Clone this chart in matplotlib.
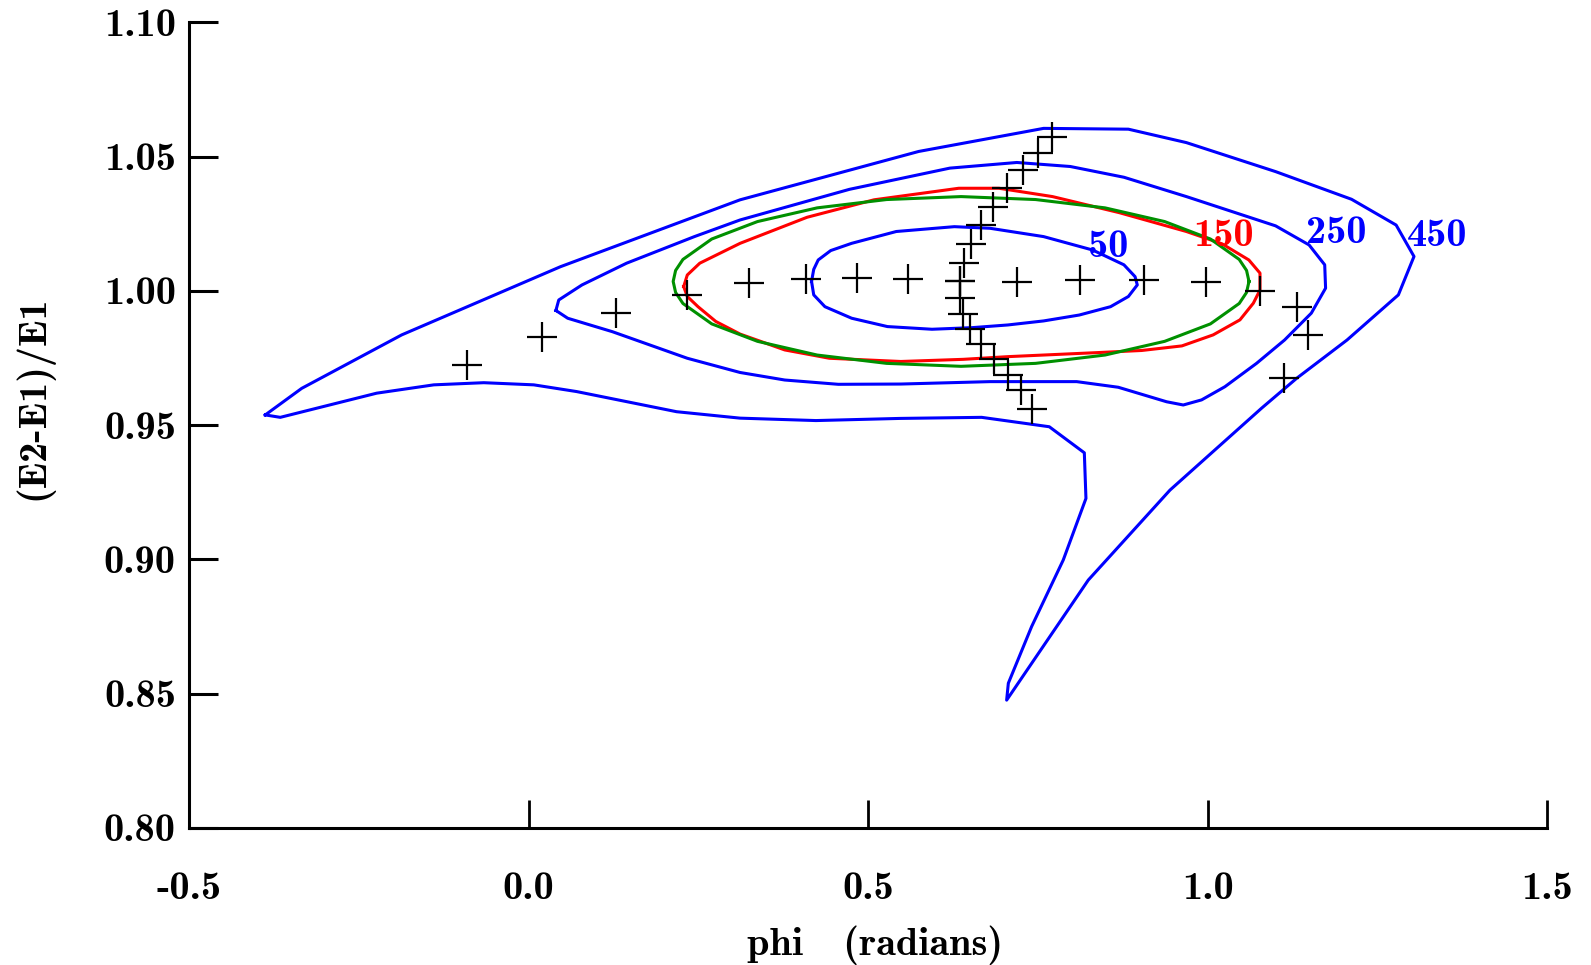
import matplotlib
matplotlib.use("Agg")
import matplotlib.pyplot as plt

# scan points (+ markers)
row_phi = [-0.091, 0.020, 0.129, 0.233, 0.325, 0.408, 0.484, 0.559, 0.635, 0.720,
           0.812, 0.907, 0.998, 1.077, 1.132, 1.148, 1.113]
row_ratio = [0.9723, 0.9829, 0.9916, 0.9984, 1.0028, 1.0043, 1.0047, 1.0043, 1.0037, 1.0034,
             1.0039, 1.0039, 1.0032, 0.9999, 0.9940, 0.9836, 0.9674]

col_phi = [0.7716, 0.7505, 0.7275, 0.7046, 0.6842, 0.6664, 0.6521, 0.6415, 0.6349,
           0.6349, 0.6401, 0.6500, 0.6664, 0.6861, 0.7058, 0.7255, 0.7420]
col_ratio = [1.0574, 1.0514, 1.0450, 1.0382, 1.0311, 1.0244, 1.0174, 1.0103, 1.0037,
             0.9972, 0.9914, 0.9859, 0.9802, 0.9745, 0.9687, 0.9631, 0.9559]

# contour 50 (blue)
c50_phi = [0.4168, 0.4200, 0.4266, 0.4450, 0.4759, 0.5416, 0.6271, 0.6796, 0.7585, 0.8308,
           0.8768, 0.8932, 0.8965, 0.8834, 0.8571, 0.8111, 0.7585, 0.7059, 0.6533, 0.5942,
           0.5285, 0.4759, 0.4365, 0.4200, 0.4168]
c50_ratio = [1.0035, 1.0080, 1.0115, 1.0150, 1.0177, 1.0221, 1.0239, 1.0233, 1.0202, 1.0152,
             1.0097, 1.0053, 1.0022, 0.9979, 0.9941, 0.9910, 0.9888, 0.9873, 0.9863, 0.9857,
             0.9867, 0.9898, 0.9941, 0.9985, 1.0035]

# contour 150 (red)
c150_phi = [0.2285, 0.2338, 0.2522, 0.3116, 0.4102, 0.5088, 0.6336, 0.6928, 0.7716, 0.8702,
            0.9688, 1.0214, 1.0608, 1.0772, 1.0772, 1.0674, 1.0477, 1.0082, 0.9622, 0.9031,
            0.8374, 0.7059, 0.6402, 0.5482, 0.4430, 0.3773, 0.3116, 0.2758, 0.2496, 0.2338,
            0.2285]
c150_ratio = [1.0016, 1.0059, 1.0103, 1.0177, 1.0274, 1.0339, 1.0382, 1.0382, 1.0351, 1.0291,
              1.0221, 1.0175, 1.0115, 1.0066, 1.0003, 0.9954, 0.9892, 0.9836, 0.9795, 0.9778,
              0.9770, 0.9755, 0.9745, 0.9737, 0.9749, 0.9780, 0.9839, 0.9886, 0.9941, 0.9979,
              1.0016]

# fitted contour (green)
fit_phi = [1.061, 1.0574, 1.0466, 1.0042, 0.9368, 0.849, 0.7467, 0.637, 0.5273, 0.425,
           0.3372, 0.2698, 0.2274, 0.2166, 0.213, 0.2166, 0.2274, 0.2698, 0.3372, 0.425,
           0.5273, 0.637, 0.7467, 0.849, 0.9368, 1.0042, 1.0466, 1.0574, 1.061]
fit_ratio = [1.0035, 1.0076, 1.0117, 1.0193, 1.0258, 1.0309, 1.0340, 1.0351, 1.0340, 1.0309,
             1.0258, 1.0193, 1.0117, 1.0076, 1.0035, 0.9994, 0.9953, 0.9877, 0.9812, 0.9761,
             0.9730, 0.9719, 0.9730, 0.9761, 0.9812, 0.9877, 0.9953, 0.9994, 1.0035]

# contour 250 (blue)
c250_phi = [0.0403, 0.0445, 0.0787, 0.1444, 0.2443, 0.3116, 0.4726, 0.6205, 0.7191, 0.7979,
            0.8768, 0.9688, 1.1002, 1.1495, 1.1725, 1.1738, 1.1528, 1.1134, 1.0721, 1.0255,
            0.9912, 0.9642, 0.9397, 0.8685, 0.8072, 0.6796, 0.5482, 0.4562, 0.3773, 0.3116,
            0.2338, 0.1234, 0.0577, 0.0403]
c250_ratio = [0.9927, 0.9966, 1.0022, 1.0103, 1.0202, 1.0264, 1.0378, 1.0457, 1.0478, 1.0463,
              1.0423, 1.0351, 1.0242, 1.0171, 1.0097, 1.0010, 0.9917, 0.9817, 0.9730, 0.9643,
              0.9594, 0.9575, 0.9587, 0.9641, 0.9662, 0.9662, 0.9653, 0.9652, 0.9668, 0.9696,
              0.9749, 0.9848, 0.9898, 0.9927]

# contour 450 (blue)
c450_phi = [-0.3877, -0.3340, -0.1868, 0.0471, 0.3116, 0.5745, 0.7585, 0.8834, 0.9688, 1.1002,
            1.2120, 1.2777, 1.3040, 1.2810, 1.2054, 1.1310, 1.0795, 0.9446, 0.8243, 0.7041,
            0.7066, 0.7409, 0.7875, 0.8209, 0.8185, 0.7669, 0.6673, 0.5471, 0.4233, 0.3116,
            0.2180, 0.0708, 0.0077, -0.0659, -0.1395, -0.2236, -0.3656, -0.3877]
c450_ratio = [0.9538, 0.9637, 0.9836, 1.0090, 1.0339, 1.0519, 1.0605, 1.0602, 1.0552, 1.0444,
              1.0341, 1.0245, 1.0128, 0.9985, 0.9817, 0.9674, 0.9563, 0.9258, 0.8923, 0.8476,
              0.8539, 0.8750, 0.8998, 0.9227, 0.9397, 0.9494, 0.9529, 0.9525, 0.9517, 0.9526,
              0.9550, 0.9625, 0.9650, 0.9658, 0.9650, 0.9619, 0.9529, 0.9538]

labels = ["50", "150", "250", "450"]
label_phi = [0.853, 1.0235, 1.190, 1.3387]
label_ratio = [1.0163, 1.0203, 1.0214, 1.0203]
label_colors = ["blue", "red", "blue", "blue"]

xticks = [-0.5, 0.0, 0.5, 1.0, 1.5]
xticklabels = ["-0.5", "0.0", "0.5", "1.0", "1.5"]
yticks = [0.80, 0.85, 0.90, 0.95, 1.00, 1.05, 1.10]
yticklabels = ["0.80", "0.85", "0.90", "0.95", "1.00", "1.05", "1.10"]

FONT = "cmb10"
FS = 29

fig = plt.figure(figsize=(15.91, 9.65), dpi=100)
ax = fig.add_axes([0.1188, 0.1420, 0.8536, 0.8349])

lw = 2.2
ax.plot(c450_phi, c450_ratio, color="blue", lw=lw)
ax.plot(c250_phi, c250_ratio, color="blue", lw=lw)
ax.plot(c50_phi, c50_ratio, color="blue", lw=lw)
ax.plot(c150_phi, c150_ratio, color="red", lw=lw)
ax.plot(fit_phi, fit_ratio, color="#009000", lw=lw)

ax.plot(row_phi, row_ratio, "k+", ms=22, mew=1.6)
ax.plot(col_phi, col_ratio, "k+", ms=22, mew=1.6)

for t, x, y, c in zip(labels, label_phi, label_ratio, label_colors):
    ax.text(x, y, t, color=c, ha="center", va="center", fontsize=FS, family=FONT)

ax.set_xlim(-0.5, 1.5)
ax.set_ylim(0.80, 1.10)
ax.spines["top"].set_visible(False)
ax.spines["right"].set_visible(False)
for s in ["left", "bottom"]:
    ax.spines[s].set_linewidth(2.2)

ax.set_xticks(xticks)
ax.set_xticklabels(xticklabels, family=FONT, fontsize=FS)
ax.set_yticks(yticks)
ax.set_yticklabels(yticklabels, family=FONT, fontsize=FS)
ax.tick_params(axis="x", direction="in", length=20, width=2.0, pad=32)
ax.tick_params(axis="y", direction="in", length=21, width=2.2, pad=9.5)

ax.set_xlabel("phi   (radians)", family=FONT, fontsize=FS)
ax.set_ylabel("(E2-E1)/E1", family=FONT, fontsize=FS)
ax.xaxis.set_label_coords(0.505, -0.121)
ax.yaxis.set_label_coords(-0.100, 0.534)

fig.savefig("out.png", dpi=100)
